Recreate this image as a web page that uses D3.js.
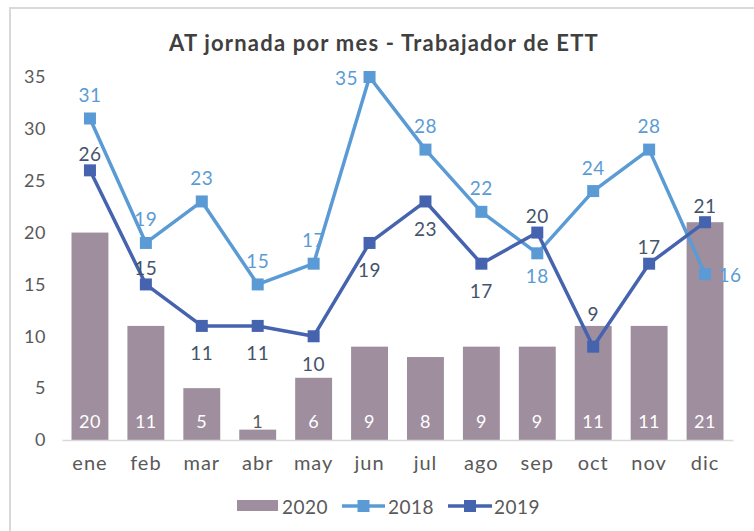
<!DOCTYPE html>
<html><head><meta charset="utf-8">
<script src="https://cdn.jsdelivr.net/npm/d3@7"></script>
<style>html,body{margin:0;padding:0;background:#fff;}svg{display:block;font-family:"Lato",sans-serif;}</style>
</head><body>
<svg id="c" width="754" height="531"></svg>
<script>
const months = ["ene","feb","mar","abr","may","jun","jul","ago","sep","oct","nov","dic"];
const v2020 = [20,11,5,1,6,9,8,9,9,11,11,21];
const v2018 = [31,19,23,15,17,35,28,22,18,24,28,16];
const v2019 = [26,15,11,11,10,19,23,17,20,9,17,21];
const yTicks = [0,5,10,15,20,25,30,35];
// label placement: a=above, b=below, l=left, r=right, t=above the bar
const pos2018 = ["a","a","a","a","a","l","a","a","b","a","a","r"];
const pos2019 = ["a","a","b","b","b","b","b","b","a","t","a","a"];

const svg = d3.select("#c");
const C18 = "#5B9BD5", C19 = "#4563AE", CBAR = "#9E8E9E", L19 = "#44546A", TXT = "#595959";

svg.append("rect").attr("x",10).attr("y",8).attr("width",760).attr("height",540)
  .attr("fill","#fff").attr("stroke","#d9d9d9").attr("stroke-width",2);

svg.append("text").attr("x",384).attr("y",42).attr("text-anchor","middle").attr("dominant-baseline","central")
  .attr("font-size",22).attr("font-weight","bold").attr("fill","#404040").attr("letter-spacing",1.2)
  .text("AT jornada por mes - Trabajador de ETT");

const x = d3.scaleBand().domain(months).range([62,733]).paddingInner(0.34).paddingOuter(0.17);
const y = d3.scaleLinear().domain([0,35]).range([440,77]);
const cx = m => x(m) + x.bandwidth()/2;

// y axis labels
const ya = svg.append("g").attr("transform","translate(46,0)")
  .call(d3.axisLeft(y).tickValues(yTicks).tickSize(0).tickPadding(0));
ya.select(".domain").remove();
ya.selectAll("text").attr("font-size",18).attr("fill",TXT).attr("font-family","Lato").attr("letter-spacing",0.5);

// bars
svg.selectAll(".bar").data(v2020).join("rect")
  .attr("x",(d,i)=>x(months[i])).attr("width",x.bandwidth())
  .attr("y",d=>y(d)).attr("height",d=>y(0)-y(d)).attr("fill",CBAR);

// x axis
const xa = svg.append("g").attr("transform","translate(0,440)")
  .call(d3.axisBottom(x).tickSize(0).tickPadding(16));
xa.select(".domain").attr("stroke","#d9d9d9").attr("stroke-width",1.5);
xa.selectAll("text").attr("font-size",20).attr("fill",TXT).attr("font-family","Lato").attr("letter-spacing",1);

// bar labels
svg.selectAll(".bl").data(v2020).join("text")
  .attr("x",(d,i)=>cx(months[i])).attr("y",421).attr("text-anchor","middle").attr("dominant-baseline","central")
  .attr("font-size",18).attr("letter-spacing",0.5).attr("fill",d=>y(0)-y(d) > 30 ? "#ffffff" : TXT).text(d=>d);

function series(vals, color, lblColor, pos, offA, offB){
  const line = d3.line().x((d,i)=>cx(months[i])).y(d=>y(d));
  svg.append("path").datum(vals).attr("d",line).attr("fill","none")
    .attr("stroke",color).attr("stroke-width",3.5).attr("stroke-linejoin","round");
  svg.append("g").selectAll("rect").data(vals).join("rect")
    .attr("x",(d,i)=>cx(months[i])-6).attr("y",d=>y(d)-6).attr("width",12).attr("height",12).attr("fill",color);
  svg.append("g").selectAll("text").data(vals).join("text")
    .attr("x",(d,i)=>cx(months[i]) + (pos[i]==="l"?-23:pos[i]==="r"?25:0))
    .attr("y",(d,i)=>pos[i]==="t" ? y(v2020[i]) - 12 : y(d) + (pos[i]==="a"?offA:pos[i]==="b"?offB:0))
    .attr("text-anchor","middle").attr("dominant-baseline","central")
    .attr("font-size",19).attr("letter-spacing",0.5).attr("fill",lblColor).text(d=>d);
}
series(v2018, C18, C18, pos2018, -24, 22);
series(v2019, C19, L19, pos2019, -17, 27);

// legend
const lg = svg.append("g").attr("font-size",19).attr("fill",TXT).attr("letter-spacing",0.5);
lg.append("rect").attr("x",237).attr("y",500).attr("width",41).attr("height",11).attr("fill",CBAR);
lg.append("text").attr("x",282).attr("y",506).attr("dominant-baseline","central").attr("fill",TXT).text("2020");
[[342,385,C18,"2018",388],[448,492,C19,"2019",494]].forEach(([a,b,c,t,tx])=>{
  lg.append("line").attr("x1",a).attr("x2",b).attr("y1",506).attr("y2",506).attr("stroke",c).attr("stroke-width",3.5);
  lg.append("rect").attr("x",(a+b)/2-6).attr("y",500).attr("width",12).attr("height",12).attr("fill",c);
  lg.append("text").attr("x",tx).attr("y",506).attr("dominant-baseline","central").attr("fill",TXT).text(t);
});
</script>
</body></html>
